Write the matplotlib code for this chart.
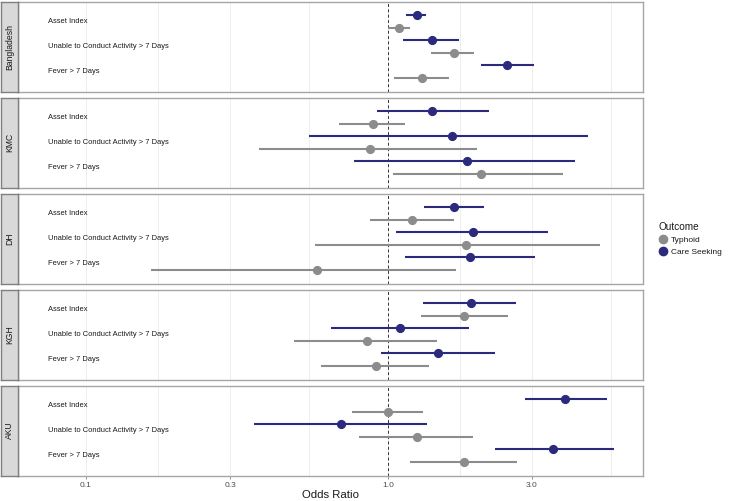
import numpy as np
import matplotlib
matplotlib.use('Agg')
from matplotlib import pyplot as plt
from matplotlib.lines import Line2D

plt.rcParams['font.family'] = ['Liberation Sans', 'DejaVu Sans']

sites = ['Bangladesh', 'KMC', 'DH', 'KGH', 'AKU']
variables = ['Asset Index', 'Unable to Conduct Activity > 7 Days', 'Fever > 7 Days']

# odds ratios per site, order of variables above
typhoid_or = [[1.09, 1.65, 1.30],
              [0.89, 0.87, 2.03],
              [1.20, 1.81, 0.58],
              [1.79, 0.85, 0.91],
              [1.00, 1.25, 1.79]]
typhoid_lo = [[1.00, 1.39, 1.05],
              [0.69, 0.375, 1.04],
              [0.87, 0.573, 0.164],
              [1.29, 0.49, 0.60],
              [0.76, 0.80, 1.18]]
typhoid_hi = [[1.18, 1.93, 1.59],
              [1.14, 1.97, 3.79],
              [1.66, 5.06, 1.68],
              [2.50, 1.45, 1.37],
              [1.31, 1.92, 2.68]]

care_or = [[1.245, 1.40, 2.48],
           [1.40, 1.63, 1.83],
           [1.65, 1.91, 1.87],
           [1.88, 1.10, 1.47],
           [3.87, 0.70, 3.52]]
care_lo = [[1.15, 1.12, 2.03],
           [0.92, 0.549, 0.772],
           [1.32, 1.06, 1.14],
           [1.31, 0.648, 0.946],
           [2.84, 0.36, 2.26]]
care_hi = [[1.34, 1.72, 3.04],
           [2.17, 4.59, 4.18],
           [2.08, 3.40, 3.06],
           [2.66, 1.86, 2.27],
           [5.30, 1.35, 5.60]]

typhoid_col = '#8c8c8c'
care_col = '#2b2a7c'
W, H = 729, 501

fig = plt.figure(figsize=(W / 100, H / 100), dpi=100)

ypos = np.array([3, 2, 1])
dodge = 0.26
major = [0.1, 0.3, 1.0, 3.0]
minor = [0.0548, 0.173, 0.548, 1.73, 5.48]

for i, site in enumerate(sites):
    top = 1.5 + i * 96
    ax = fig.add_axes([18 / W, 1 - (top + 90) / H, 625 / W, 90 / H])
    for g in major + minor:
        ax.axvline(g, color='#ebebeb', lw=0.6, zorder=0)
    ax.axvline(1.0, color='#333333', lw=0.7, ls=(0, (3, 2.5)), zorder=1)

    ax.hlines(ypos + dodge, care_lo[i], care_hi[i], color=care_col, lw=1.5, zorder=2)
    ax.plot(care_or[i], ypos + dodge, 'o', color=care_col, ms=5.6, zorder=3)
    ax.hlines(ypos - dodge, typhoid_lo[i], typhoid_hi[i], color=typhoid_col, lw=1.5, zorder=2)
    ax.plot(typhoid_or[i], ypos - dodge, 'o', color=typhoid_col, ms=5.6, zorder=3)

    for v, lab in zip(ypos, variables):
        ax.text(0.075, v, lab, ha='left', va='center', fontsize=5.4, color='#1a1a1a')

    ax.set_xscale('log')
    ax.set_xlim(0.0595, 7.0)
    ax.set_ylim(0.2, 3.82)
    ax.set_yticks([])
    ax.minorticks_off()
    for s in ax.spines.values():
        s.set_color('#a6a6a6')
        s.set_linewidth(1.0)
    if i < len(sites) - 1:
        ax.set_xticks([])
    else:
        ax.set_xticks(major)
        ax.set_xticklabels(['0.1', '0.3', '1.0', '3.0'])
        ax.tick_params(axis='x', length=2.5, width=0.6, color='#7f7f7f',
                       labelsize=6, labelcolor='#4d4d4d', pad=2)

    # facet strip on the left
    sx = fig.add_axes([1 / W, 1 - (top + 90) / H, 17 / W, 90 / H])
    sx.set_facecolor('#d9d9d9')
    sx.set_xticks([])
    sx.set_yticks([])
    for s in sx.spines.values():
        s.set_color('#7f7f7f')
        s.set_linewidth(1.0)
    sx.text(0.5, 0.5, site, rotation=90, ha='center', va='center',
            fontsize=6.2, color='#1a1a1a', transform=sx.transAxes)

fig.text(330 / W, 1 - 494.5 / H, 'Odds Ratio', ha='center', va='center',
         fontsize=8.2, color='#1a1a1a')

handles = [Line2D([], [], marker='o', ls='', color=typhoid_col, ms=6),
           Line2D([], [], marker='o', ls='', color=care_col, ms=6)]
leg = fig.legend(handles, ['Typhoid', 'Care Seeking'], title='Outcome',
                 loc='upper left', bbox_to_anchor=(655 / W, 1 - 219 / H),
                 frameon=False, fontsize=6, title_fontsize=7.2,
                 handletextpad=0.5, labelspacing=0.45, borderaxespad=0,
                 handlelength=1.0, alignment='left')
leg.get_title().set_color('#1a1a1a')
for t in leg.get_texts():
    t.set_color('#1a1a1a')

fig.savefig('out.png', dpi=100)
